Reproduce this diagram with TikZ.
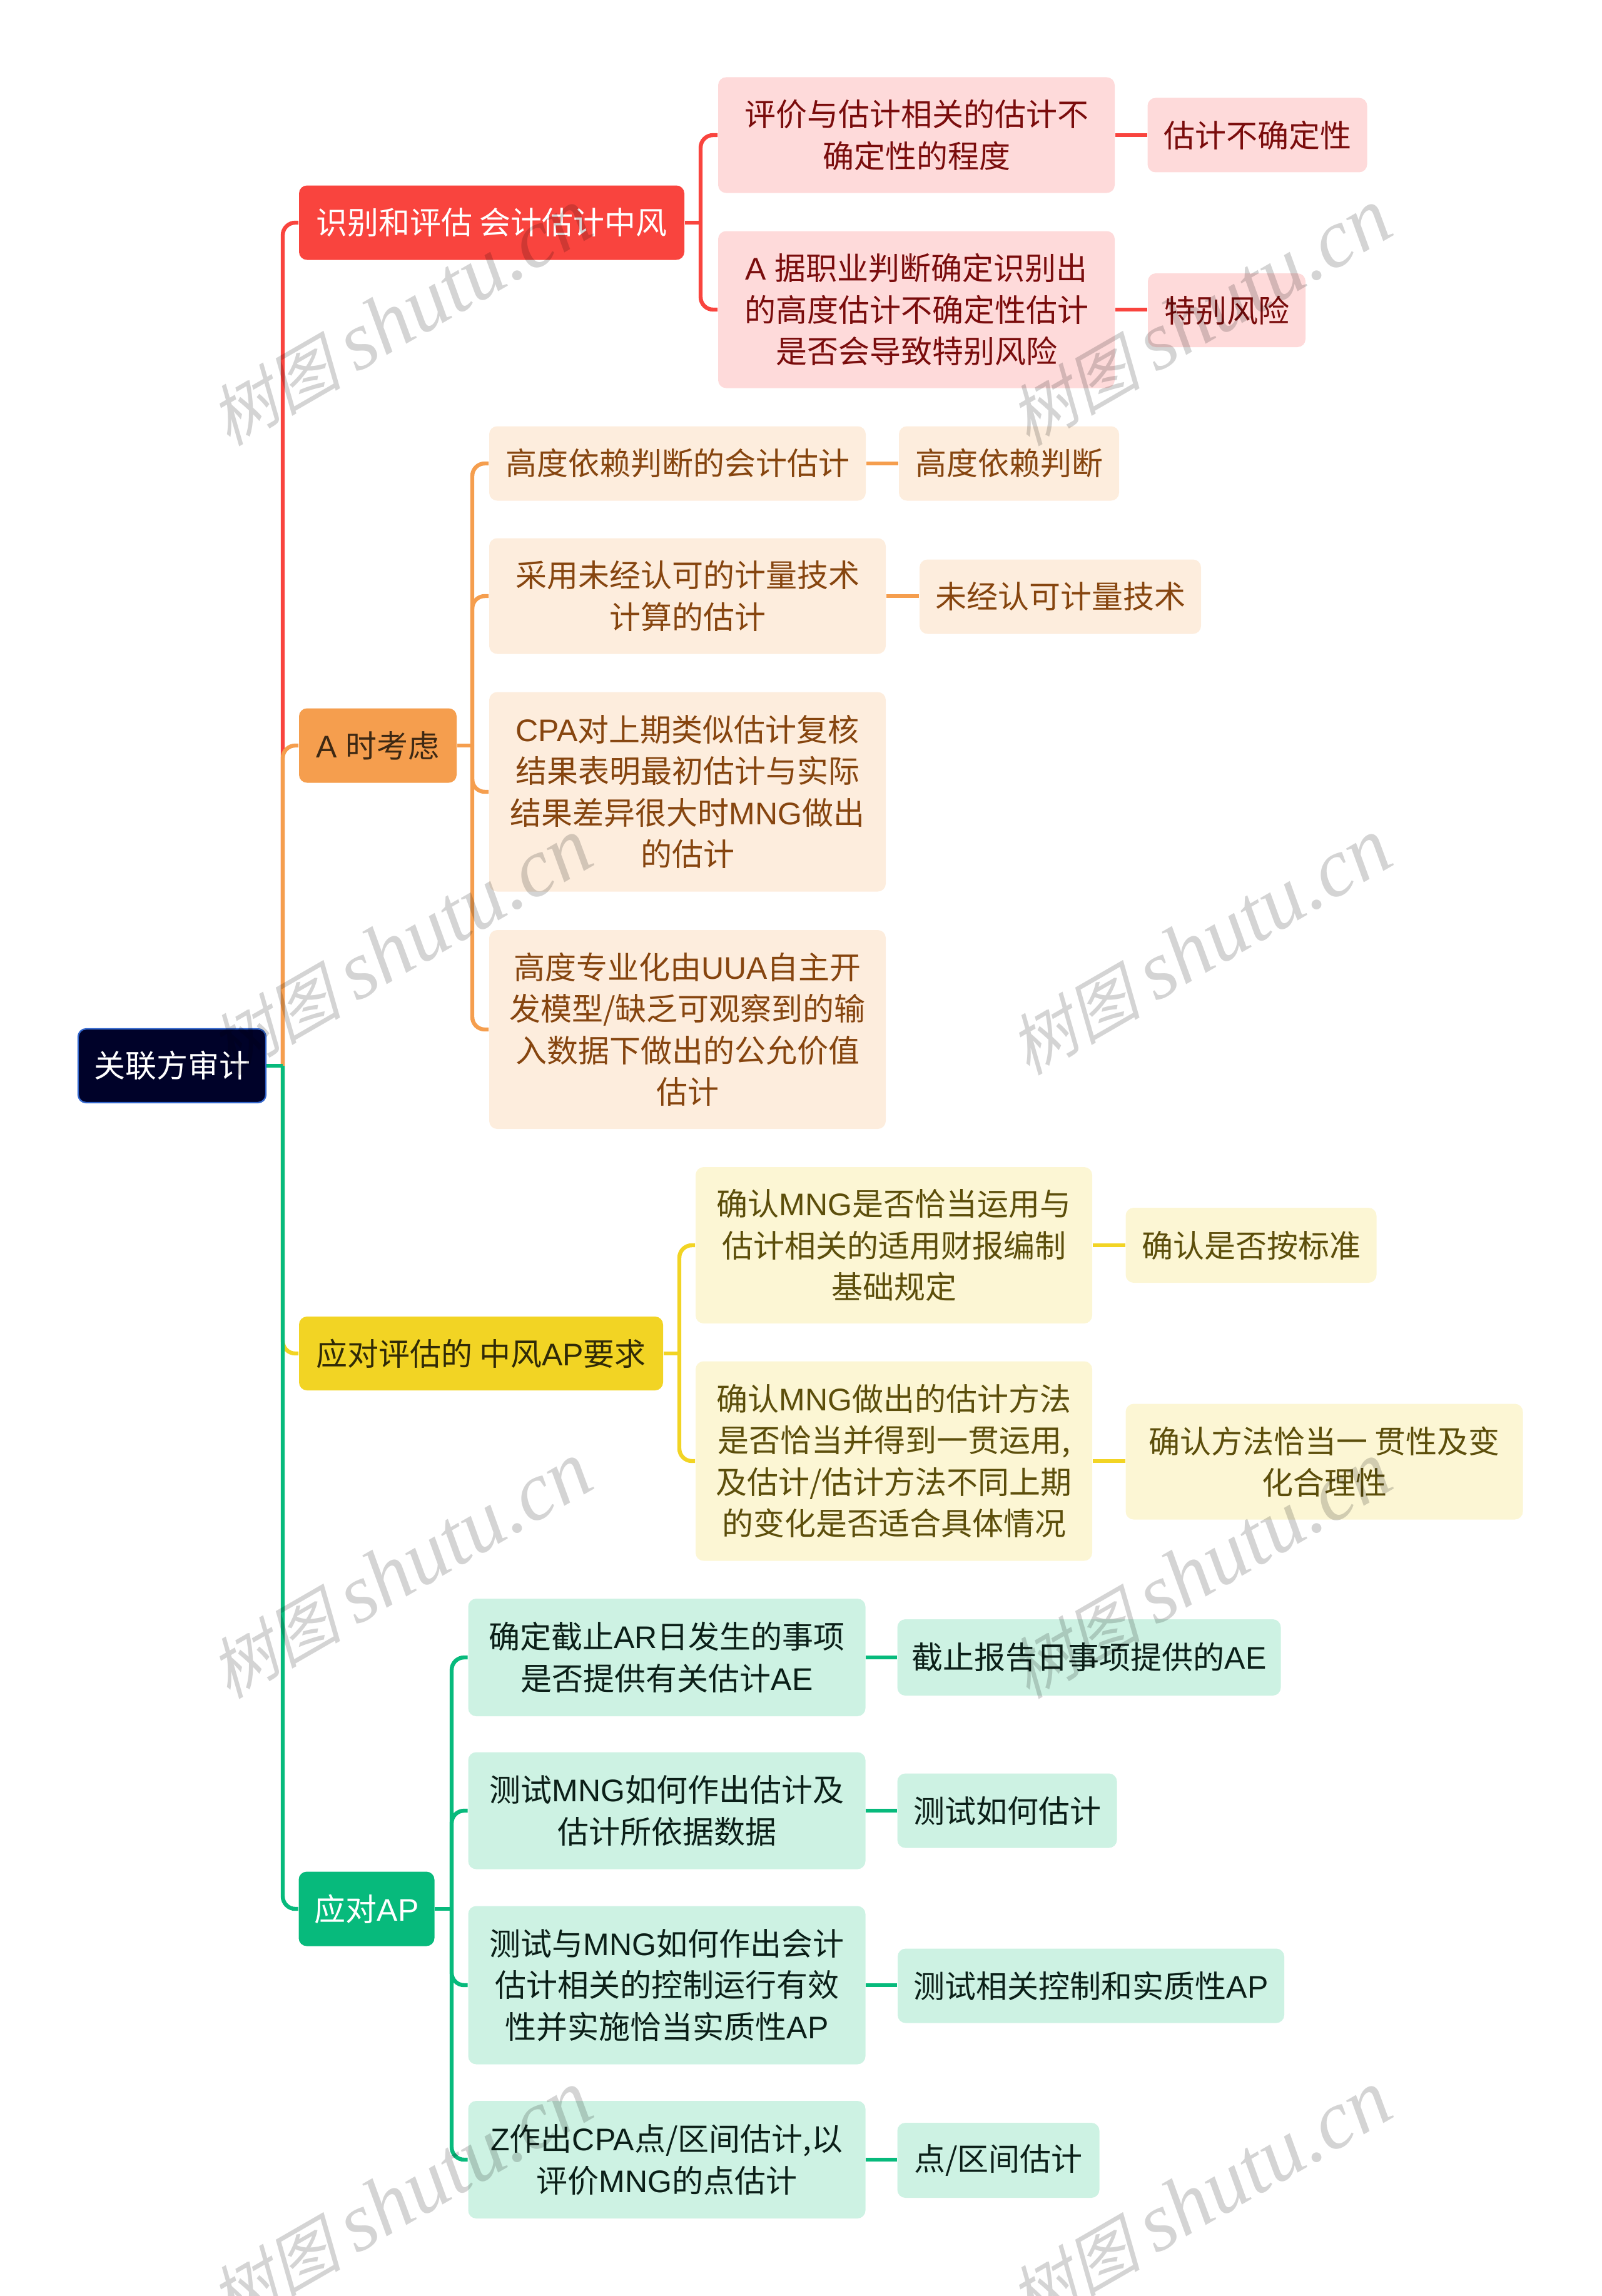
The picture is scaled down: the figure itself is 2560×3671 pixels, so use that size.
\documentclass[tikz,border=0pt]{standalone}
\usepackage{fontspec}
\setmainfont{Noto Sans CJK SC}
\newfontfamily\markfont[FakeSlant=0.25]{Noto Sans CJK SC}
\newfontfamily\marklatin[Scale=1.25,ItalicFont=* Italic]{Liberation Serif}
\newfontfamily\boxlatin{Liberation Sans}
\newcommand{\lat}[1]{{\boxlatin #1}}
\usetikzlibrary{positioning,calc}

\definecolor{rootfill}{HTML}{000229}
\definecolor{rootline}{HTML}{3366CC}
\definecolor{redmain}{HTML}{F9443E}
\definecolor{redsoft}{HTML}{FEDADA}
\definecolor{redtext}{HTML}{7A0C0C}
\definecolor{orangemain}{HTML}{F59E4E}
\definecolor{orangesoft}{HTML}{FDEDDD}
\definecolor{orangetext}{HTML}{86450F}
\definecolor{yellowmain}{HTML}{F2D424}
\definecolor{yellowsoft}{HTML}{FCF6D4}
\definecolor{yellowtext}{HTML}{5C4E0B}
\definecolor{greenmain}{HTML}{07BA7C}
\definecolor{greensoft}{HTML}{CDF2E3}
\definecolor{greentext}{HTML}{0B1F18}

\begin{document}
\begin{tikzpicture}
      [x=0.25pt,y=-0.25pt,
       box/.style={rectangle,rounded corners=3.2pt,inner sep=0pt,align=center,
                   font=\fontsize{12.5}{16.6}\selectfont},
       rootbox/.style={box,fill=rootfill,draw=rootline,line width=0.6pt,text=white},
       redtop/.style={box,fill=redmain,text=white},
       redsub/.style={box,fill=redsoft,text=redtext},
       orangetop/.style={box,fill=orangemain,text=black!75!orangemain},
       orangesub/.style={box,fill=orangesoft,text=orangetext},
       yellowtop/.style={box,fill=yellowmain,text=black!80!yellowmain},
       yellowsub/.style={box,fill=yellowsoft,text=yellowtext},
       greentop/.style={box,fill=greenmain,text=white},
       greensub/.style={box,fill=greensoft,text=greentext},
       redlink/.style={draw=redmain,line width=1.6pt,rounded corners=5pt},
       orangelink/.style={draw=orangemain,line width=1.6pt,rounded corners=5pt},
       yellowlink/.style={draw=yellowmain,line width=1.6pt,rounded corners=5pt},
       greenlink/.style={draw=greenmain,line width=1.6pt,rounded corners=5pt},
       watermark/.style={rotate=30,text=black,opacity=0.17,inner sep=0pt,
                         font=\fontsize{26.5}{27}\selectfont}]
      \useasboundingbox (0,0) rectangle (2560,3671);

      % root and first level
      \node[rootbox,minimum width=75pt,minimum height=29.5pt] (root) at (275,1704) {关联方审计};
      \node[redtop,minimum width=154pt,minimum height=29.75pt] (risk) at (786,356) {识别和评估 会计估计中风};
      \node[orangetop,minimum width=63pt,minimum height=29.75pt] (atime) at (604,1192) {\lat{A }时考虑};
      \node[yellowtop,minimum width=145.5pt,minimum height=29.5pt] (respond) at (769,2164) {应对评估的 中风\lat{AP}要求};
      \node[greentop,minimum width=54.25pt,minimum height=29.75pt] (answer) at (586,3052) {应对\lat{AP}};

      % red branch
      \node[redsub,minimum width=158.5pt,minimum height=46.25pt] (riskA) at (1465,216) {评价与估计相关的估计不\\确定性的程度};
      \node[redsub,minimum width=158.5pt,minimum height=62.75pt] (riskB) at (1465,495) {\lat{A }据职业判断确定识别出\\的高度估计不确定性估计\\是否会导致特别风险};
      \node[redsub,minimum width=87.75pt,minimum height=29.75pt] (riskAleaf) at (2010,216) {估计不确定性};
      \node[redsub,minimum width=63pt,minimum height=29.5pt] (riskBleaf) at (1961,496) {特别风险};

      % orange branch
      \node[orangesub,minimum width=150.5pt,minimum height=29.75pt] (atimeA) at (1083,741) {高度依赖判断的会计估计};
      \node[orangesub,minimum width=158.5pt,minimum height=46.25pt] (atimeB) at (1099,953) {采用未经认可的计量技术\\计算的估计};
      \node[orangesub,minimum width=158.5pt,minimum height=79.75pt] (atimeC) at (1099,1266) {\lat{CPA}对上期类似估计复核\\结果表明最初估计与实际\\结果差异很大时\lat{MNG}做出\\的估计};
      \node[orangesub,minimum width=158.5pt,minimum height=79.5pt] (atimeD) at (1099,1646) {高度专业化由\lat{UUA}自主开\\发模型/缺乏可观察到的输\\入数据下做出的公允价值\\估计};
      \node[orangesub,minimum width=88pt,minimum height=29.75pt] (atimeAleaf) at (1613,741) {高度依赖判断};
      \node[orangesub,minimum width=112.5pt,minimum height=29.75pt] (atimeBleaf) at (1695,954) {未经认可计量技术};

      % yellow branch
      \node[yellowsub,minimum width=158.5pt,minimum height=62.5pt] (respondA) at (1429,1991) {确认\lat{MNG}是否恰当运用与\\估计相关的适用财报编制\\基础规定};
      \node[yellowsub,minimum width=158.5pt,minimum height=79.75pt] (respondB) at (1429,2336) {确认\lat{MNG}做出的估计方法\\是否恰当并得到一贯运用,\\及估计/估计方法不同上期\\的变化是否适合具体情况};
      \node[yellowsub,minimum width=100.25pt,minimum height=30pt] (respondAleaf) at (2000,1991) {确认是否按标准};
      \node[yellowsub,minimum width=158.75pt,minimum height=46.25pt] (respondBleaf) at (2117,2337) {确认方法恰当一 贯性及变\\化合理性};

      % green branch
      \node[greensub,minimum width=158.75pt,minimum height=47pt] (answerA) at (1066,2650) {确定截止\lat{AR}日发生的事项\\是否提供有关估计\lat{AE}};
      \node[greensub,minimum width=158.75pt,minimum height=46.75pt] (answerB) at (1066,2895) {测试\lat{MNG}如何作出估计及\\估计所依据数据};
      \node[greensub,minimum width=158.75pt,minimum height=63.25pt] (answerC) at (1066,3174) {测试与\lat{MNG}如何作出会计\\估计相关的控制运行有效\\性并实施恰当实质性\lat{AP}};
      \node[greensub,minimum width=158.75pt,minimum height=47pt] (answerD) at (1066,3453) {\lat{Z}作出\lat{CPA}点/区间估计,以\\评价\lat{MNG}的点估计};
      \node[greensub,minimum width=153.25pt,minimum height=30.5pt] (answerAleaf) at (1741,2650) {截止报告日事项提供的\lat{AE}};
      \node[greensub,minimum width=87.75pt,minimum height=29.75pt] (answerBleaf) at (1610,2895) {测试如何估计};
      \node[greensub,minimum width=154.5pt,minimum height=29.75pt] (answerCleaf) at (1744,3175) {测试相关控制和实质性\lat{AP}};
      \node[greensub,minimum width=80.75pt,minimum height=30pt] (answerDleaf) at (1596,3454) {点/区间估计};

      \coordinate (spine) at (452,1704);
      \coordinate (riskfork) at (1120,356);
      \coordinate (atimefork) at (755,1192);
      \coordinate (respondfork) at (1086,2164);
      \coordinate (answerfork) at (722,3052);

      % links from the root
      \draw[redlink] (spine) |- (risk.west);
      \draw[orangelink] (spine) |- (atime.west);
      \draw[yellowlink] (spine) |- (respond.west);
      \draw[greenlink] (spine) |- (answer.west);
      \draw[greenlink] (root.east) -- (spine);

      % links to the second level
      \draw[redlink] (risk.east) -- (riskfork);
      \draw[redlink] (riskfork) |- (riskA.west);
      \draw[redlink] (riskfork) |- (riskB.west);
      \draw[redlink] (riskA.east) -- (riskA.east -| riskAleaf.west);
      \draw[redlink] (riskB.east) -- (riskB.east -| riskBleaf.west);

      \draw[orangelink] (atime.east) -- (atimefork);
      \draw[orangelink] (atimefork) |- (atimeA.west);
      \draw[orangelink] (atimefork) |- (atimeB.west);
      \draw[orangelink] (atimefork) |- (atimeC.west);
      \draw[orangelink] (atimefork) |- (atimeD.west);
      \draw[orangelink] (atimeA.east) -- (atimeAleaf.west);
      \draw[orangelink] (atimeB.east) -- (atimeB.east -| atimeBleaf.west);

      \draw[yellowlink] (respond.east) -- (respondfork);
      \draw[yellowlink] (respondfork) |- (respondA.west);
      \draw[yellowlink] (respondfork) |- (respondB.west);
      \draw[yellowlink] (respondA.east) -- (respondAleaf.west);
      \draw[yellowlink] (respondB.east) -- (respondB.east -| respondBleaf.west);

      \draw[greenlink] (answer.east) -- (answerfork);
      \draw[greenlink] (answerfork) |- (answerA.west);
      \draw[greenlink] (answerfork) |- (answerB.west);
      \draw[greenlink] (answerfork) |- (answerC.west);
      \draw[greenlink] (answerfork) |- (answerD.west);
      \draw[greenlink] (answerA.east) -- (answerAleaf.west);
      \draw[greenlink] (answerB.east) -- (answerBleaf.west);
      \draw[greenlink] (answerC.east) -- (answerC.east -| answerCleaf.west);
      \draw[greenlink] (answerD.east) -- (answerD.east -| answerDleaf.west);

      % watermarks
      \foreach \markx/\marky [count=\marki] in {640/508,1918/508,640/1514,1918/1514,640/2511,1918/2511,640/3516,1918/3516}
        \node[watermark] (mark\marki) at (\markx,\marky) {{\markfont 树图} {\marklatin\itshape shutu.cn}};
    \end{tikzpicture}
\end{document}
